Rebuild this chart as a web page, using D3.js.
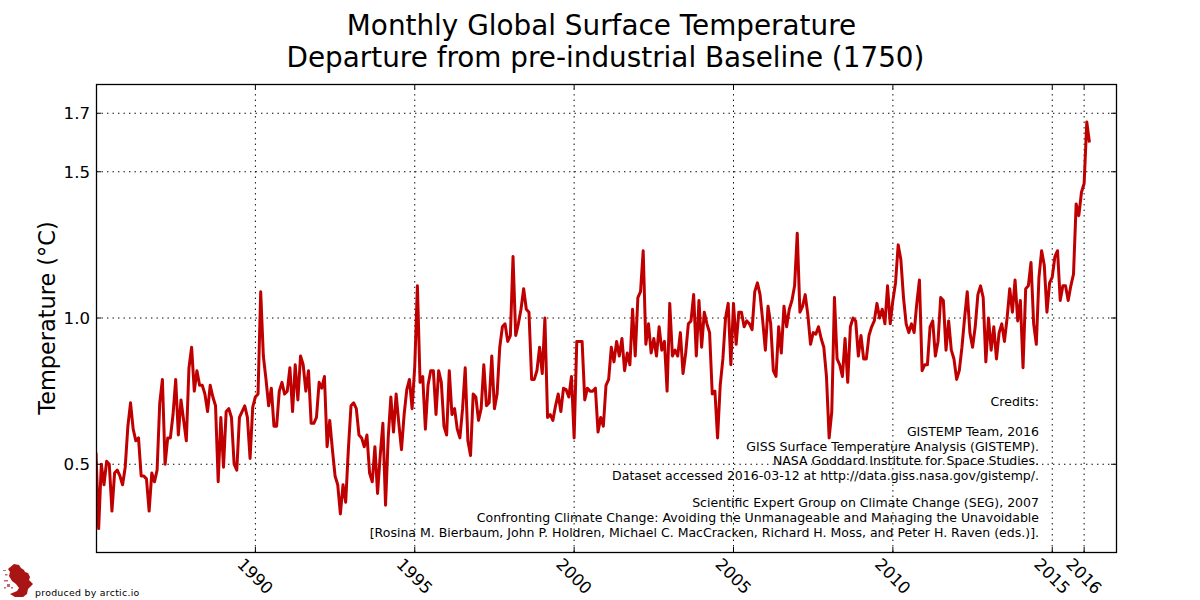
<!DOCTYPE html>
<html><head><meta charset="utf-8">
<script src="https://cdn.jsdelivr.net/npm/d3@7"></script>
<style>html,body{margin:0;padding:0;background:#fff}svg{display:block}text{font-family:"DejaVu Sans",sans-serif;fill:#000}</style>
</head><body><svg id="c" width="1200" height="600"></svg>
<script>
const titleLines=["Monthly Global Surface Temperature","Departure from pre-industrial Baseline (1750)"];
const yLabel="Temperature (°C)";
const xTicks=[1990,1995,2000,2005,2010,2015,2016];
const yTicks=[0.5,1.0,1.5,1.7];
const startYear=1985;
const anomalies=[
0.54,0.28,0.50,0.43,0.51,0.50,0.34,0.47,0.48,0.46,0.43,0.49,0.63,0.71,0.62,0.58,0.59,0.46,0.46,0.45,
0.34,0.47,0.44,0.48,0.71,0.79,0.50,0.59,0.59,0.67,0.79,0.60,0.72,0.65,0.58,0.83,0.90,0.75,0.82,0.77,
0.77,0.74,0.68,0.77,0.73,0.70,0.44,0.66,0.49,0.68,0.69,0.66,0.50,0.48,0.66,0.68,0.70,0.66,0.52,0.695,
0.73,0.74,1.09,0.87,0.79,0.70,0.76,0.63,0.63,0.75,0.78,0.74,0.75,0.83,0.68,0.84,0.72,0.87,0.84,0.75,
0.82,0.64,0.64,0.66,0.78,0.76,0.80,0.56,0.65,0.55,0.46,0.43,0.33,0.43,0.37,0.55,0.70,0.71,0.69,0.60,
0.59,0.56,0.60,0.47,0.44,0.56,0.40,0.53,0.64,0.36,0.59,0.73,0.61,0.74,0.64,0.55,0.67,0.755,0.79,0.69,
0.835,1.11,0.78,0.80,0.62,0.77,0.82,0.82,0.67,0.82,0.78,0.63,0.60,0.82,0.67,0.69,0.62,0.59,0.69,0.83,
0.58,0.53,0.74,0.73,0.65,0.69,0.84,0.70,0.71,0.87,0.69,0.74,0.90,0.97,0.98,0.92,0.94,1.21,0.94,0.98,
1.03,1.10,1.03,1.02,0.79,0.79,0.82,0.90,0.81,1.00,0.66,0.67,0.65,0.70,0.74,0.68,0.76,0.755,0.73,0.80,
0.59,0.92,0.92,0.92,0.72,0.76,0.75,0.75,0.76,0.61,0.66,0.63,0.77,0.79,0.90,0.85,0.92,0.87,0.93,0.82,
0.88,0.84,1.03,0.87,1.07,1.09,1.23,0.91,0.98,0.88,0.93,0.87,0.97,0.89,0.92,0.75,1.05,0.87,0.89,0.87,
0.95,0.81,0.88,0.98,0.99,1.08,0.87,1.06,0.90,1.02,0.98,0.95,0.74,0.75,0.59,0.77,0.86,1.00,1.05,0.84,
1.05,0.91,1.02,1.02,0.97,0.99,0.98,0.96,1.09,1.12,1.08,0.99,0.89,1.04,0.98,0.82,0.80,0.97,0.88,1.04,
0.97,1.03,1.06,1.11,1.29,1.02,1.04,1.08,1.01,0.91,0.95,0.945,0.97,0.93,0.90,0.80,0.59,0.68,1.07,0.86,
0.84,0.80,0.93,0.78,0.97,1.00,0.99,0.87,0.94,0.86,0.86,0.94,0.97,0.99,1.05,1.00,1.03,0.98,1.11,0.98,
1.06,1.12,1.25,1.20,1.07,0.98,0.95,0.98,0.95,1.05,1.13,0.82,0.84,0.84,0.97,0.99,0.87,0.92,1.07,1.06,
0.89,0.99,0.89,0.86,0.79,0.82,0.90,1.00,1.09,0.95,0.90,0.97,1.08,1.11,1.07,0.85,1.00,0.89,0.97,0.86,
0.95,0.98,0.92,1.00,1.10,1.02,1.13,0.99,1.06,0.83,1.10,1.11,1.19,0.98,0.91,1.14,1.23,1.18,1.02,1.12,
1.14,1.21,1.23,1.06,1.11,1.11,1.06,1.11,1.15,1.39,1.35,1.43,1.46,1.67,1.60];
const credits=["Credits:","GISTEMP Team, 2016","GISS Surface Temperature Analysis (GISTEMP).","NASA Goddard Institute for Space Studies.","Dataset accessed 2016-03-12 at http://data.giss.nasa.gov/gistemp/.","Scientific Expert Group on Climate Change (SEG), 2007","Confronting Climate Change: Avoiding the Unmanageable and Managing the Unavoidable","[Rosina M. Bierbaum, John P. Holdren, Michael C. MacCracken, Richard H. Moss, and Peter H. Raven (eds.)]."];
const creditY=[406,436,451,465,480,507,522,537];

const L=96,R=1116,T=84,B=552;
const svg=d3.select("#c");
const x=d3.scaleLinear().domain([1985,2017]).range([L,R]);
const y=d3.scaleLinear().domain([0.2,1.8]).range([B,T]);

svg.append("defs").append("clipPath").attr("id","plot").append("rect").attr("x",L).attr("y",T).attr("width",R-L).attr("height",B-T);

// grid
const dash="1.4 4.1";
const gy=svg.append("g").attr("transform",`translate(${L},-0.5)`).call(d3.axisLeft(y).tickValues(yTicks).tickSize(-(R-L)).tickFormat(""));
gy.select(".domain").remove();
gy.selectAll("line").attr("stroke","#000").attr("stroke-width",1).attr("stroke-dasharray",dash);
const gx=svg.append("g").attr("transform",`translate(-0.5,${B})`).call(d3.axisBottom(x).tickValues(xTicks).tickSize(-(B-T)).tickFormat(""));
gx.select(".domain").remove();
gx.selectAll("line").attr("stroke","#000").attr("stroke-width",1).attr("stroke-dasharray",dash);

// line
svg.append("path").datum(anomalies).attr("clip-path","url(#plot)")
 .attr("d",d3.line().x((d,i)=>x(startYear+i/12)).y(d=>y(d)))
 .attr("fill","none").attr("stroke","#c00000").attr("stroke-width",3).attr("stroke-linejoin","round").attr("stroke-linecap","butt");

// ticks
const tl=5;
const ax=svg.append("g");
const aL=ax.append("g").attr("transform",`translate(${L},-0.5)`).call(d3.axisLeft(y).tickValues(yTicks).tickSize(-tl).tickPadding(14).tickFormat(d3.format(".1f")));
const aR=ax.append("g").attr("transform",`translate(${R},-0.5)`).call(d3.axisRight(y).tickValues(yTicks).tickSize(-tl).tickFormat(""));
const aB=ax.append("g").attr("transform",`translate(-0.5,${B})`).call(d3.axisBottom(x).tickValues(xTicks).tickSize(-tl).tickFormat(""));
const aT=ax.append("g").attr("transform",`translate(-0.5,${T})`).call(d3.axisTop(x).tickValues(xTicks).tickSize(-tl).tickFormat(""));
[aL,aR,aB,aT].forEach(a=>{a.select(".domain").remove();a.selectAll("line").attr("stroke","#000").attr("stroke-width",1);});
aL.selectAll("text").attr("font-size",16.6).style("font-family",'"DejaVu Sans"').attr("fill","#000").attr("x",-6).attr("dy","0.36em");
svg.append("rect").attr("x",L+0.5).attr("y",T+0.5).attr("width",R-L).attr("height",B-T).attr("fill","none").attr("stroke","#000").attr("stroke-width",1.3);

// x tick labels
svg.append("g").selectAll("text").data(xTicks).join("text")
 .attr("transform",d=>`translate(${x(d)},576) rotate(45)`)
 .attr("text-anchor","middle").attr("dy","0.36em").attr("font-size",16.6).text(d=>d);

// titles
svg.append("g").selectAll("text").data(titleLines).join("text")
 .attr("x",(d,i)=>i?605.5:601.5).attr("y",(d,i)=>i?67:35).attr("text-anchor","middle").attr("font-size",27.85).text(d=>d);
svg.append("text").attr("transform","translate(55,318) rotate(-90)").attr("text-anchor","middle").attr("font-size",22.4).text(yLabel);

// credits
svg.append("g").selectAll("text").data(credits).join("text")
 .attr("x",1039).attr("y",(d,i)=>creditY[i]).attr("text-anchor","end").attr("font-size",12.52).text(d=>d);

// footer
svg.append("text").attr("x",35).attr("y",596).attr("font-size",9.4).attr("letter-spacing",0.27).text("produced by arctic.io");

// logo (decoration)
const logoBody=[[14,564],[19,565],[21,568],[24,570],[25,572],[28,573],[30,577],[29,580],[33,584],[30,587],[28,589],[27,594],[23,597],[15,597],[10,594],[17,591],[19,588],[16,584],[12,581],[9,576],[10,572],[8,569]];
const logoSpecks=[[5,574,2.5,1.5],[4,580,4,1.5],[7,584,3,3],[4,587,2,1.5],[11,587,2,1.5],[3,570,3,1]];
const logo=svg.append("g").attr("fill","#a91414");
logo.append("path").attr("d",d3.line()(logoBody)+"Z");
logo.selectAll("rect").data(logoSpecks).join("rect")
 .attr("x",d=>d[0]).attr("y",d=>d[1]).attr("width",d=>d[2]).attr("height",d=>d[3]).attr("opacity",0.65);
</script></body></html>
